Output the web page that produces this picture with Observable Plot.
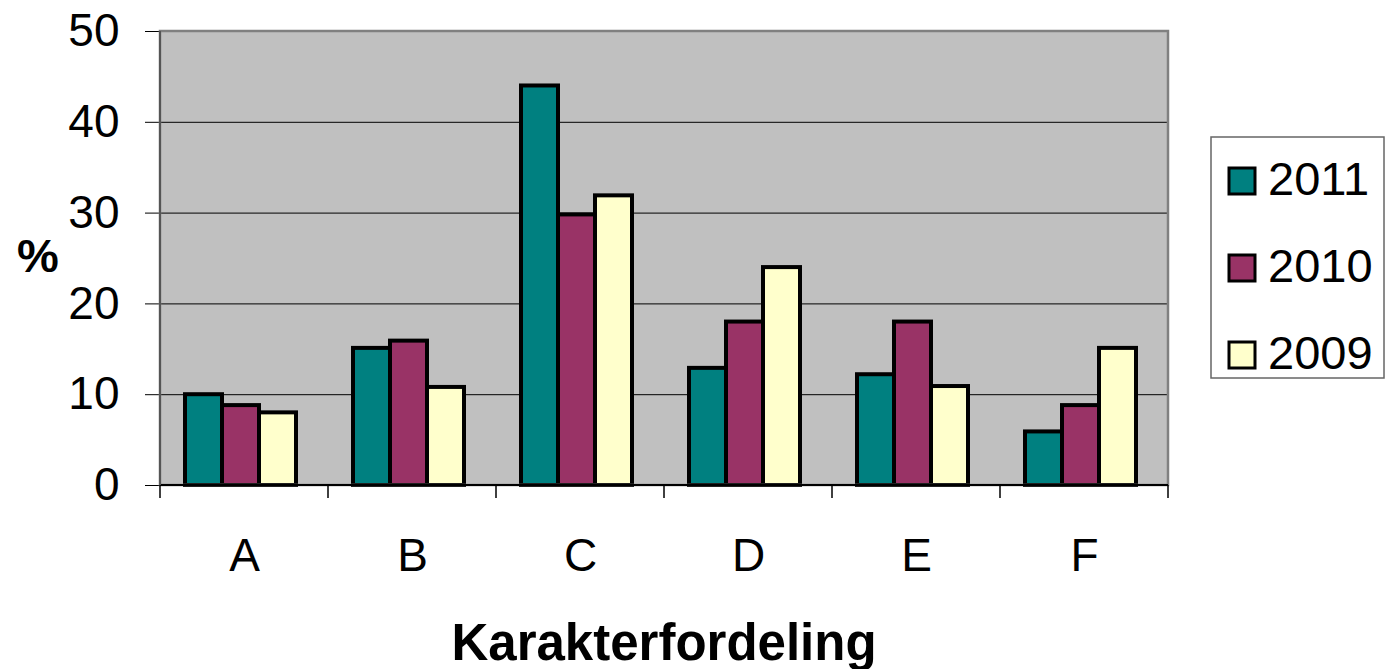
<!DOCTYPE html>
<html><head><meta charset="utf-8">
<script src="https://cdn.jsdelivr.net/npm/d3@7"></script>
<script src="https://cdn.jsdelivr.net/npm/@observablehq/plot@0.6"></script>
<style>body{margin:0;background:#fff;} svg{font-family:"Liberation Sans",Arial,sans-serif;}</style>
</head><body><div id="chart"></div>
<script>
const categories = ["A","B","C","D","E","F"];
const series = ["2011","2010","2009"];
const values2011 = [10, 15.1, 44, 12.9, 12.2, 5.9];
const values2010 = [8.8, 15.9, 29.8, 18, 18, 8.8];
const values2009 = [8, 10.8, 31.9, 24, 10.9, 15.1];
const yTicks = [0, 10, 20, 30, 40, 50];
const colors = ["#008080", "#993366", "#FFFFCC"];
const xTitle = "Karakterfordeling";
const yTitle = "%";

const rows = [];
[values2011, values2010, values2009].forEach((vals, j) =>
  vals.forEach((v, i) => rows.push({cat: categories[i], series: series[j], value: v})));

const chart = Plot.plot({
  width: 1385, height: 669,
  marginLeft: 160, marginRight: 217, marginTop: 31, marginBottom: 184,
  style: {fontFamily: "Liberation Sans, Arial, sans-serif", background: "white", overflow: "visible"},
  fx: {domain: categories, paddingInner: 0, paddingOuter: 0, label: null},
  x: {domain: series, paddingInner: 0, paddingOuter: 0.75, align: 0.44, axis: null},
  y: {domain: [0, 50], label: null},
  color: {domain: series, range: colors},
  marks: [
    Plot.gridY(yTicks.slice(1, -1), {stroke: "#000", strokeOpacity: 1, strokeWidth: 1}),
    Plot.barY(rows, {fx: "cat", x: "series", y: "value", fill: "series", stroke: "#000", strokeWidth: 4}),
    Plot.axisY(yTicks, {tickSize: 15, tickPadding: 26, fontSize: 46, stroke: "#000", strokeOpacity: 1, fill: "#000", label: null}),
    Plot.axisFx({anchor: "bottom", tickSize: 0, tickPadding: 53, fontSize: 46, fill: "#000", label: null})
  ]
});
document.getElementById("chart").appendChild(chart);

const svg = d3.select(chart);
const fx = chart.scale("fx"), y = chart.scale("y"), color = chart.scale("color");
const bw = fx.bandwidth;
const xL = fx.apply(categories[0]);
const xR = fx.apply(categories[categories.length - 1]) + bw;
const yT = y.apply(50), yB = y.apply(0);

// background
svg.insert("rect", ":first-child")
  .attr("x", xL).attr("y", yT).attr("width", xR - xL).attr("height", yB - yT)
  .attr("fill", "#c0c0c0");
// border
svg.append("rect")
  .attr("x", xL).attr("y", yT).attr("width", xR - xL).attr("height", yB - yT)
  .attr("fill", "none").attr("stroke", "#808080").attr("stroke-width", 2.5);
// axis line at 0
svg.append("line").attr("x1", xL).attr("x2", xR).attr("y1", yB).attr("y2", yB)
  .attr("stroke", "#000").attr("stroke-width", 2);
// left axis line
svg.append("line").attr("x1", xL).attr("x2", xL).attr("y1", yT).attr("y2", yB)
  .attr("stroke", "#555").attr("stroke-width", 2);
// category boundary ticks
for (let i = 0; i <= categories.length; i++) {
  const xx = xL + i * bw;
  svg.append("line").attr("x1", xx).attr("x2", xx).attr("y1", yB).attr("y2", yB + 13)
    .attr("stroke", "#000").attr("stroke-width", 1.5);
}
// titles
svg.append("text").attr("x", (xL + xR) / 2).attr("y", 660).attr("text-anchor", "middle")
  .attr("font-size", 51).attr("font-weight", "bold").attr("fill", "#000").text(xTitle);
svg.append("text").attr("x", 38).attr("y", 272).attr("text-anchor", "middle")
  .attr("font-size", 47).attr("font-weight", "bold").attr("fill", "#000").text(yTitle);
// legend
const lg = svg.append("g").attr("text-anchor", "start");
lg.append("rect").attr("x", 1211).attr("y", 137).attr("width", 173).attr("height", 241)
  .attr("fill", "#fff").attr("stroke", "#666").attr("stroke-width", 1.5);
series.forEach((s, i) => {
  const top = 168 + i * 87;
  lg.append("rect").attr("x", 1229).attr("y", top).attr("width", 26).attr("height", 26)
    .attr("fill", color.apply(s)).attr("stroke", "#000").attr("stroke-width", 3);
  lg.append("text").attr("x", 1268).attr("y", top + 27).attr("font-size", 47)
    .attr("text-anchor", "start").attr("fill", "#000").text(s);
});
</script></body></html>
